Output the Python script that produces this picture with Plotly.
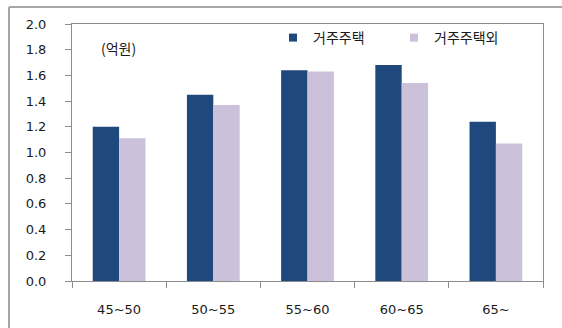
import plotly.graph_objects as go

categories = ["45~50", "50~55", "55~60", "60~65", "65~"]
series_names = ["거주주택", "거주주택외"]
series_colors = ["#1F497D", "#CCC1DA"]
home_values = [1.20, 1.45, 1.64, 1.68, 1.24]
other_values = [1.11, 1.37, 1.63, 1.54, 1.07]
y_ticks = [0.0, 0.2, 0.4, 0.6, 0.8, 1.0, 1.2, 1.4, 1.6, 1.8, 2.0]
y_tick_labels = [f"{v:.1f}" for v in y_ticks]
unit_label = "(억원)"

W, H = 562, 328
L, R, T, B = 72, 19, 24, 47
pw, ph = W - L - R, H - T - B

def px_x(x):
    return (x - L) / pw

def px_y(y):
    return (H - B - y) / ph

font_num = "DejaVu Sans"
font_kr = "Noto Sans CJK KR"
text_color = "#1a1a1a"
axis_color = "#8c8c8c"

fig = go.Figure()
for name, vals, col in zip(series_names, [home_values, other_values], series_colors):
    fig.add_trace(go.Bar(x=categories, y=vals, name=name, showlegend=False,
                         marker=dict(color=col, line=dict(width=0))))
# legend entries with small square swatches
for name, col in zip(series_names, series_colors):
    fig.add_trace(go.Scatter(x=[None], y=[None], mode="markers", name=name,
                             marker=dict(symbol="square", size=8, color=col)))

fig.update_layout(
    width=W, height=H,
    margin=dict(l=L, r=R, t=T, b=B, pad=0),
    paper_bgcolor="white", plot_bgcolor="white",
    barmode="group", bargap=0.44, bargroupgap=0,
    showlegend=True,
    legend=dict(orientation="h", x=px_x(273), y=px_y(38), xanchor="left", yanchor="middle",
                font=dict(family=font_kr, size=14, color=text_color),
                bgcolor="rgba(0,0,0,0)", entrywidth=76, entrywidthmode="pixels",
                itemwidth=30, tracegroupgap=0),
    xaxis=dict(showline=True, linecolor=axis_color, linewidth=1, mirror=True,
               ticks="outside", ticklen=6, tickcolor=axis_color, tickson="boundaries",
               tickfont=dict(family=font_num, size=13, color=text_color),
               ticklabelstandoff=16, showgrid=False, fixedrange=True),
    yaxis=dict(range=[0, 2.0], tickvals=y_ticks, ticktext=y_tick_labels,
               showline=True, linecolor=axis_color, linewidth=1, mirror=True,
               ticks="outside", ticklen=6, tickcolor=axis_color,
               tickfont=dict(family=font_num, size=13, color=text_color),
               ticklabelstandoff=16, showgrid=False, zeroline=False, fixedrange=True),
    annotations=[dict(text=unit_label, xref="paper", yref="paper",
                      x=px_x(118), y=px_y(48), xanchor="center", yanchor="middle",
                      showarrow=False, font=dict(family=font_kr, size=14, color=text_color))],
    shapes=[
        dict(type="line", xref="paper", yref="paper", x0=px_x(9), x1=px_x(570),
             y0=px_y(7), y1=px_y(7), line=dict(color="#a6a6a6", width=2)),
        dict(type="line", xref="paper", yref="paper", x0=px_x(9), x1=px_x(9),
             y0=px_y(7), y1=px_y(340), line=dict(color="#a6a6a6", width=2)),
    ],
)

fig.write_html("out.html")
